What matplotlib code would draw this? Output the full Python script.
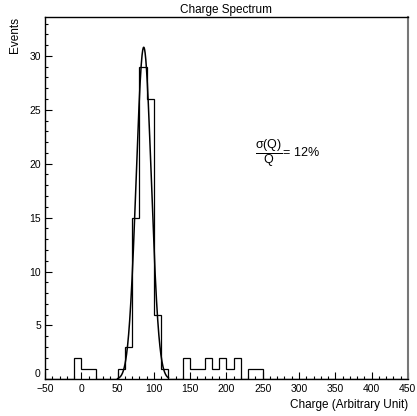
import numpy as np
import matplotlib
matplotlib.use("Agg")
import matplotlib.pyplot as plt
from matplotlib.ticker import MultipleLocator

plt.rcParams['font.family'] = ['Liberation Sans', 'DejaVu Sans']
plt.rcParams['mathtext.fontset'] = 'custom'
plt.rcParams['mathtext.rm'] = 'Liberation Sans'
plt.rcParams['mathtext.it'] = 'Liberation Sans'

# histogram: bins of width 10 from -50 to 450
bin_edges = np.arange(-50, 451, 10)
counts = [0, 0, 0, 0,             # -50 .. -10
          2, 1, 1, 0, 0, 0,       # -10 .. 50
          1, 3, 15, 29, 26, 6,    # 50 .. 110
          1, 0, 0, 2, 1, 1,       # 110 .. 170
          2, 1, 2, 1, 2, 0,       # 170 .. 230
          1, 1] + [0] * 20        # 230 .. 450

# gaussian fit
fit_amp = 30.8
fit_mean = 86.0
fit_sigma = 10.4
fit_range = (50, 120)

fig = plt.figure(figsize=(4.17, 4.16), dpi=100)
ax = fig.add_axes([0.108, 0.088, 0.870, 0.871])

ax.stairs(counts, bin_edges, color='black', lw=0.9)
xf = np.linspace(fit_range[0], fit_range[1], 300)
ax.plot(xf, fit_amp * np.exp(-0.5 * ((xf - fit_mean) / fit_sigma) ** 2), color='black', lw=1.1)

ax.set_xlim(-50, 450)
ax.set_ylim(0, 33.6)
ax.xaxis.set_major_locator(MultipleLocator(50))
ax.xaxis.set_minor_locator(MultipleLocator(10))
ax.yaxis.set_major_locator(MultipleLocator(5))
ax.yaxis.set_minor_locator(MultipleLocator(1))
ax.tick_params(which='both', direction='in', top=False, right=False, labelsize=7.5, width=0.8)
ax.tick_params(which='major', length=4.8)
ax.tick_params(which='minor', length=2.4)
ax.tick_params(axis='x', pad=3)
ax.tick_params(axis='y', pad=3)
for s in ax.spines.values():
    s.set_linewidth(1.0)
ax.spines['right'].set_color('#777777')
ax.spines['right'].set_linewidth(1.5)

ax.set_title('Charge Spectrum', fontsize=8.5, pad=3)
ax.set_xlabel('Charge (Arbitrary Unit)', fontsize=8.5, loc='right', labelpad=4)
ax.set_ylabel('Events', fontsize=8.5, loc='top', labelpad=6)

ax.text(239, 21.0, r'$\dfrac{\sigma(\mathrm{Q})}{\mathrm{Q}}$= 12%', fontsize=9, va='center', ha='left')

# lift the y "0" label a little so it clears the x "-50"
fig.canvas.draw()
for t in ax.yaxis.get_major_ticks():
    if abs(t.get_loc()) < 1e-9:
        t.label1.set_verticalalignment('bottom')

fig.savefig('out.png', dpi=100)
